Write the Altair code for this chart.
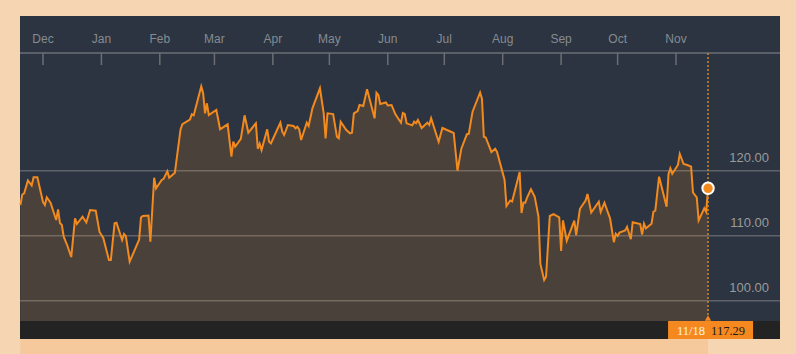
import altair as alt
import pandas as pd

# ---- price series ----
dates = [
    # Nov 2015
    "2015-11-19", "2015-11-20", "2015-11-21", "2015-11-23", "2015-11-25", "2015-11-26", "2015-11-28",
    # Dec 2015
    "2015-12-01", "2015-12-02", "2015-12-03", "2015-12-05", "2015-12-08", "2015-12-09", "2015-12-10",
    "2015-12-11", "2015-12-12", "2015-12-14", "2015-12-16", "2015-12-18", "2015-12-19", "2015-12-22",
    "2015-12-24", "2015-12-26", "2015-12-29", "2015-12-31",
    # Jan 2016
    "2016-01-02", "2016-01-05", "2016-01-06", "2016-01-08", "2016-01-09", "2016-01-12", "2016-01-13",
    "2016-01-14", "2016-01-16", "2016-01-21", "2016-01-22", "2016-01-23", "2016-01-26", "2016-01-27",
    "2016-01-29", "2016-01-30",
    # Feb
    "2016-02-02", "2016-02-03", "2016-02-05", "2016-02-06", "2016-02-09", "2016-02-12", "2016-02-13",
    "2016-02-17", "2016-02-18", "2016-02-19", "2016-02-23", "2016-02-24", "2016-02-25", "2016-02-26",
    "2016-02-27",
    # Mar
    "2016-03-02", "2016-03-04", "2016-03-08", "2016-03-10", "2016-03-11", "2016-03-12", "2016-03-15",
    "2016-03-17", "2016-03-19", "2016-03-23", "2016-03-24", "2016-03-25", "2016-03-26", "2016-03-29",
    "2016-03-30", "2016-03-31",
    # Apr
    "2016-04-02", "2016-04-05", "2016-04-06", "2016-04-07", "2016-04-09", "2016-04-12", "2016-04-13",
    "2016-04-14", "2016-04-15", "2016-04-16", "2016-04-19", "2016-04-20", "2016-04-22", "2016-04-26",
    "2016-04-28", "2016-04-29", "2016-04-30",
    # May
    "2016-05-03", "2016-05-05", "2016-05-06", "2016-05-07", "2016-05-10", "2016-05-12", "2016-05-13",
    "2016-05-14", "2016-05-16", "2016-05-17", "2016-05-19", "2016-05-21", "2016-05-25", "2016-05-26",
    "2016-05-27", "2016-05-28", "2016-05-31",
    # Jun
    "2016-06-01", "2016-06-03", "2016-06-05", "2016-06-08", "2016-06-09", "2016-06-10", "2016-06-11",
    "2016-06-14", "2016-06-15", "2016-06-16", "2016-06-17", "2016-06-19", "2016-06-22", "2016-06-23",
    "2016-06-24", "2016-06-28", "2016-06-30",
    # Jul
    "2016-07-06", "2016-07-08", "2016-07-10", "2016-07-13", "2016-07-14", "2016-07-16", "2016-07-20",
    "2016-07-21", "2016-07-22", "2016-07-23", "2016-07-26", "2016-07-28", "2016-07-29",
    # Aug
    "2016-08-02", "2016-08-03", "2016-08-05", "2016-08-06", "2016-08-10", "2016-08-11", "2016-08-12",
    "2016-08-13", "2016-08-14", "2016-08-16", "2016-08-18", "2016-08-20", "2016-08-21", "2016-08-23",
    "2016-08-24", "2016-08-26", "2016-08-28", "2016-08-31",
    # Sep
    "2016-09-01", "2016-09-02", "2016-09-04", "2016-09-08", "2016-09-09", "2016-09-11", "2016-09-14",
    "2016-09-15", "2016-09-17", "2016-09-21", "2016-09-22", "2016-09-24", "2016-09-27", "2016-09-29",
    "2016-09-30",
    # Oct
    "2016-10-01", "2016-10-02", "2016-10-05", "2016-10-06", "2016-10-08", "2016-10-09", "2016-10-13",
    "2016-10-14", "2016-10-15", "2016-10-16", "2016-10-19", "2016-10-20", "2016-10-21", "2016-10-23",
    "2016-10-27", "2016-10-28", "2016-10-29", "2016-10-30",
    # Nov
    "2016-11-02", "2016-11-03", "2016-11-05", "2016-11-07", "2016-11-09", "2016-11-10", "2016-11-12",
    "2016-11-13", "2016-11-16", "2016-11-17", "2016-11-18",
]

prices = [
    # Nov 2015
    114.72, 116.34, 116.52, 118.49, 117.72, 118.98, 118.98,
    # Dec
    115.18, 114.72, 115.91, 115.08, 112.42, 114.06, 111.95, 111.65, 109.85, 108.42, 106.72,
    112.68, 111.80, 112.92, 112.03, 113.95, 113.85, 110.57,
    # Jan
    109.65, 106.26, 106.26, 111.91, 112.00, 109.34, 110.26, 109.91, 106.00, 109.38, 112.80,
    113.03, 113.11, 109.08, 118.91, 117.29,
    # Feb
    118.57, 118.75, 119.92, 118.91, 119.69, 126.34, 127.15, 127.85, 128.68, 128.52, 132.98,
    131.91, 128.83, 130.37, 128.57,
    # Mar
    129.34, 126.37, 127.14, 122.15, 124.46, 123.69, 124.91, 128.52, 125.85, 127.29, 123.37,
    124.15, 123.18, 126.37, 124.46, 124.22,
    # Apr
    125.49, 127.38, 126.00, 125.49, 127.03, 126.88, 126.52, 126.77, 126.37, 124.72, 127.38,
    126.88, 129.60, 132.68, 128.83, 124.98, 128.83,
    # May
    128.72, 125.23, 124.98, 127.54, 126.26, 125.75, 125.85, 128.83, 129.18, 130.11, 129.95,
    132.52, 128.06, 132.00, 131.65, 130.26, 130.49,
    # Jun
    130.03, 130.11, 128.72, 127.38, 128.88, 128.72, 127.29, 126.98, 127.54, 127.29, 127.80,
    126.57, 127.38, 127.03, 128.06, 124.46, 126.57,
    # Jul
    125.80, 120.00, 123.34, 125.62, 125.68, 129.08, 132.03, 131.03, 125.23, 125.11, 122.88,
    123.37, 122.88,
    # Aug
    118.57, 114.57, 115.42, 115.26, 119.80, 113.49, 115.11, 115.08, 115.91, 117.14, 116.00,
    112.92, 105.65, 103.18, 103.69, 113.03, 113.31, 112.83,
    # Sep
    107.65, 112.35, 109.23, 112.31, 110.11, 114.14, 115.42, 116.42, 113.57, 115.23, 113.65,
    115.08, 112.65, 109.00, 110.31,
    # Oct
    109.95, 110.49, 110.80, 111.37, 109.46, 112.08, 111.80, 110.18, 111.85, 111.14, 111.85,
    113.69, 113.85, 119.08, 114.46, 119.46, 120.37, 119.54,
    # Nov
    120.88, 122.57, 121.03, 120.88, 120.62, 116.65, 115.88, 112.35, 114.22, 113.69, 117.29,
]

month_starts = ["2015-12-01", "2016-01-01", "2016-02-01", "2016-03-01", "2016-04-01", "2016-05-01",
                "2016-06-01", "2016-07-01", "2016-08-01", "2016-09-01", "2016-10-01", "2016-11-01"]
month_labels = ["Dec", "Jan", "Feb", "Mar", "Apr", "May", "Jun", "Jul", "Aug", "Sep", "Oct", "Nov"]

grid_values = [100, 110, 120]

assert len(dates) == len(prices)

df = pd.DataFrame({"date": pd.to_datetime(dates), "price": prices})
last_df = df.tail(1).reset_index(drop=True)
months_df = pd.DataFrame({"date": pd.to_datetime(month_starts), "label": month_labels})
grid_df = pd.DataFrame({"price": grid_values})

W, H = 760, 323
ORANGE = "#f28a1e"

xscale = alt.Scale(domain=[alt.DateTime(year=2015, month=11, date=18, hours=19),
                           alt.DateTime(year=2016, month=12, date=26, hours=4, minutes=30)],
                   padding=0)
yscale = alt.Scale(domain=[94.11, 143.8], zero=False, nice=False, padding=0)

X = alt.X("date:T", scale=xscale, axis=None)
Y = alt.Y("price:Q", scale=yscale, axis=None)

grid = alt.Chart(grid_df).mark_rule(color="#8a8a8a", opacity=0.55, strokeWidth=1.5).encode(
    y=Y, x=alt.value(0), x2=alt.value(W))

area = alt.Chart(df).mark_area(color="#f08a24", opacity=0.16).encode(
    x=X, y=Y, y2=alt.value(305))

line = alt.Chart(df).mark_line(color=ORANGE, strokeWidth=2).encode(x=X, y=Y)

axis_line = alt.Chart(last_df).mark_rule(color="#6b6f75", strokeWidth=1.5).encode(
    x=alt.value(0), x2=alt.value(W), y=alt.value(37))

ticks = alt.Chart(months_df).mark_rule(color="#6b6f75", strokeWidth=1.5).encode(
    x=X, y=alt.value(37), y2=alt.value(49))

month_text = alt.Chart(months_df).mark_text(
    color="#868b92", fontSize=12, font="Liberation Sans", baseline="middle").encode(
    x=X, y=alt.value(23), text="label:N")

right_labels = alt.Chart(grid_df).mark_text(
    align="right", baseline="middle", color="#9a9a9a", fontSize=13, font="Liberation Sans", dy=-13).encode(
    y=Y, x=alt.value(749), text=alt.Text("price:Q", format=".2f"))

dotted = alt.Chart(last_df).mark_rule(color="#c98a2e", strokeDash=[2, 2], strokeWidth=1.5).encode(
    x=X, y=alt.value(37), y2=alt.value(305))

bottom_bar = alt.Chart(last_df).mark_rect(color="#232323").encode(
    x=alt.value(0), x2=alt.value(W), y=alt.value(305), y2=alt.value(323))

label_box = alt.Chart(last_df).mark_bar(color="#f5891f", width=85, xOffset=2.5).encode(
    x=X, y=alt.value(305), y2=alt.value(323))

triangle = alt.Chart(last_df).mark_point(
    shape="triangle-up", filled=True, size=40, color="#f5891f", opacity=1).encode(
    x=X, y=alt.value(302))

date_text = alt.Chart(last_df).mark_text(
    font="Liberation Serif", fontSize=12.5, color="#fff4e6", baseline="middle", dx=-17).encode(
    x=X, y=alt.value(315), text=alt.Text("date:T", format="%m/%d"))

price_text = alt.Chart(last_df).mark_text(
    font="Liberation Serif", fontSize=12.5, color="#1a1a1a", baseline="middle", dx=20).encode(
    x=X, y=alt.value(315), text=alt.Text("price:Q", format=".2f"))

marker = alt.Chart(last_df).mark_point(
    filled=True, fill=ORANGE, stroke="white", strokeWidth=2, size=130, opacity=1).encode(x=X, y=Y)

chart = alt.layer(
    grid, area, line, axis_line, ticks, month_text, right_labels, dotted,
    bottom_bar, label_box, triangle, date_text, price_text, marker
).properties(
    width=W, height=H,
    padding={"left": 20, "top": 16, "right": 16, "bottom": 15},
    autosize=alt.AutoSizeParams(type="none"),
    background="#f6d6b2",
).configure_view(fill="#2b3440", strokeWidth=0)

chart.save("out.html", embed_options={"renderer": "svg", "actions": False})
